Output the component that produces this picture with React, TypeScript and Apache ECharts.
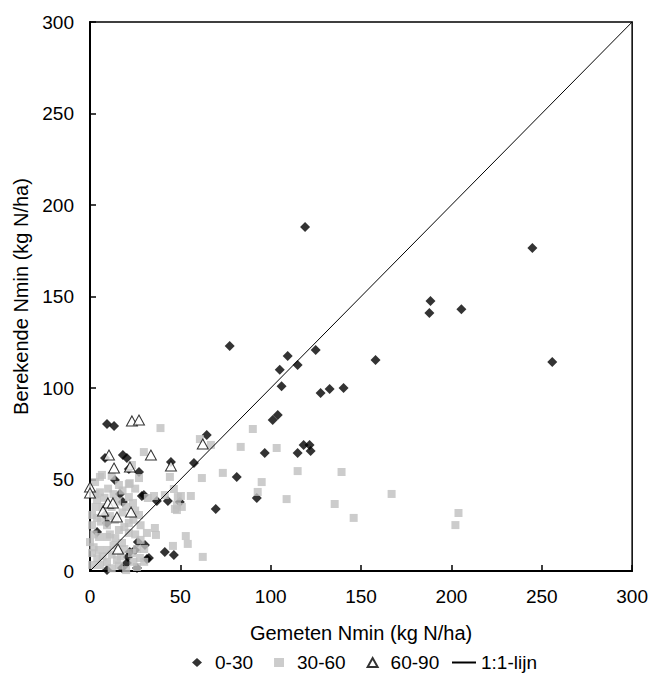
import React, { useEffect, useRef } from "react";
import * as echarts from "echarts";

const seriesNames = ["0-30", "30-60", "60-90", "1:1-lijn"];

const d0_30: number[][] = [
  [119, 188], [244.8, 176.5], [188.4, 147.5], [187.8, 141], [205.5, 143], [158, 115.3], [255.8, 114.2],
  [77.3, 123], [109.4, 117.5], [124.9, 120.8], [105, 110], [114.9, 112.6], [106, 101], [127.6, 97.3],
  [132.6, 99.5], [140.3, 100], [101.1, 82.5], [103.9, 85.2], [64.6, 74.3], [118.2, 68.9], [121.5, 68.9],
  [114.9, 64.5], [122.1, 65.6], [96.7, 64.5], [57.5, 59], [81.2, 51.4], [92.3, 39.9], [69.6, 33.9],
  [9.4, 80.3], [13.3, 79.2], [8.3, 61.7], [18.2, 63.4], [20.4, 61.7], [21.5, 55.7], [27.1, 54.1],
  [44.8, 59.6], [13.8, 49.7], [16.6, 42.1], [28.7, 41], [37, 38.3], [43.1, 38.3], [49.7, 37.7],
  [18.2, 37.7], [8.3, 30.6], [3.9, 21.3], [26.5, 15.8], [30.4, 14.2], [24.9, 11.5], [41.4, 10.4],
  [46.4, 8.7], [31.5, 6.6], [21, 7.7], [17.7, 1.6], [9.4, 0.5], [26, 1.6], [9.4, 26.2], [22, 10.4],
  [32.6, 7.1], [20.4, 4.4], [29.8, 41.5]
];

const d30_60: number[][] = [
  [60.8, 72.1], [66.9, 68.9], [90.1, 77.6], [83.4, 67.8], [103.3, 67.2], [61.9, 50.8], [73.5, 53.6],
  [95, 48.6], [114.9, 54.6], [139.2, 54.1], [92.8, 43.2], [108.8, 39.3], [135.4, 36.6], [145.9, 29],
  [55.8, 41], [50.3, 41], [50.8, 35], [53, 19.1], [54.1, 14.8], [62.4, 7.7], [166.9, 42.1],
  [203.9, 31.7], [202.2, 25.1], [39, 78.1], [29.8, 65], [23.2, 57.9], [44.2, 51.4], [27.1, 50.8],
  [21.5, 47.5], [5.5, 51.4], [2.8, 48.6], [46.4, 44.8], [35.4, 41], [48.6, 40.4], [32, 39.9],
  [48.1, 33.3], [48.1, 36], [23.8, 37.2], [31.5, 20.8], [36.5, 19.7], [45.9, 13.7], [47, 33.9],
  [6.6, 52.5], [22, 48], [5.5, 43], [3.9, 38.8], [1.1, 30.6], [1.1, 25], [0, 15.8], [1.1, 9.8],
  [1.1, 3.3], [9.4, 25], [9.4, 18.6], [9.4, 11.5], [9.4, 4.9], [16, 22.4], [17.7, 15.3], [21.5, 20.8],
  [23.2, 9.8], [21.5, 26.2], [14.9, 6], [5, 18.6], [5, 11.5], [5.5, 3.3], [27.6, 7.1], [26, 2.2],
  [35.9, 23.5], [41.4, 41.5], [13.8, 27.9], [3.9, 29], [21.5, 40.4], [27.1, 30.6], [12, 35], [18, 32],
  [14, 18], [19, 12], [12, 9], [25, 20], [28, 25], [16, 3], [7, 35], [20, 0.5], [12, 1.5], [4, 7],
  [30, 12], [25, 33], [18, 44], [10, 45], [3, 35],
  [2, 20], [6, 27], [11, 30], [15, 38], [20, 35], [24, 28], [28, 17], [13, 14], [7, 8], [17, 8],
  [24, 5], [3, 42], [8, 40], [13, 42], [19, 24], [11, 20], [26, 12], [30, 5], [2, 13], [16, 47],
  [25, 45], [12, 52]
];

const d60_90: number[][] = [
  [23.2, 82], [27.1, 82.5], [10.5, 63.4], [33.7, 63.4], [13.3, 56.3], [22.1, 56.8], [44.8, 57.4],
  [62.4, 69.4], [0, 45.9], [0, 42.6], [9.9, 37.2], [12.7, 37.2], [7.2, 32.8], [14.9, 29.5],
  [22.7, 32.2], [15.5, 12]
];

const oneToOne: number[][] = [[0, 0], [300, 300]];

const FONT = "'Liberation Sans', Arial, sans-serif";

export default function App() {
  const ref = useRef<HTMLDivElement>(null);
  useEffect(() => {
    if (!ref.current) return;
    const chart = echarts.init(ref.current, null, { renderer: "svg" });
    const axisCommon = {
      type: "value" as const,
      min: 0,
      max: 300,
      interval: 50,
      splitLine: { show: false },
      axisLine: { show: true, lineStyle: { color: "#000", width: 2 } },
      axisTick: { show: true, inside: true, length: 6, lineStyle: { color: "#000", width: 1.5 } },
      axisLabel: { color: "#000", fontSize: 19, fontFamily: FONT, margin: 16 },
      nameTextStyle: { color: "#000", fontSize: 20, fontFamily: FONT },
      nameLocation: "middle" as const,
    };
    const legendText = { color: "#000", fontSize: 19, fontFamily: FONT };
    chart.setOption({
      animation: false,
      textStyle: { fontFamily: FONT },
      grid: {
        left: 90, right: 18, top: 22, bottom: 114,
        show: true, borderColor: "#000", borderWidth: 1.5, backgroundColor: "transparent",
      },
      xAxis: { ...axisCommon, name: "Gemeten Nmin (kg N/ha)", nameGap: 52 },
      yAxis: { ...axisCommon, name: "Berekende Nmin (kg N/ha)", nameGap: 58 },
      legend: [
        {
          left: 187,
          top: 648,
          itemWidth: 10,
          itemHeight: 9,
          itemGap: 21,
          textStyle: { ...legendText, padding: [0, 0, 0, 8] },
          data: [
            { name: seriesNames[0], icon: "diamond" },
            { name: seriesNames[1], icon: "rect" },
            { name: seriesNames[2], icon: "triangle" },
          ],
        },
        {
          left: 446,
          top: 648,
          itemWidth: 24,
          itemHeight: 1,
          textStyle: { ...legendText },
          data: [{ name: seriesNames[3] }],
        },
      ],
      series: [
        {
          name: seriesNames[0],
          type: "scatter",
          symbol: "diamond",
          symbolSize: 10,
          itemStyle: { color: "#000" },
          data: d0_30,
        },
        {
          name: seriesNames[1],
          type: "scatter",
          symbol: "rect",
          symbolSize: 8,
          itemStyle: { color: "#bfbfbf" },
          data: d30_60,
        },
        {
          name: seriesNames[2],
          type: "scatter",
          symbol: "triangle",
          symbolSize: [11, 10],
          itemStyle: { color: "#fff", borderColor: "#000", borderWidth: 1 },
          data: d60_90,
        },
        {
          name: seriesNames[3],
          type: "line",
          symbol: "none",
          lineStyle: { color: "#000", width: 1 },
          itemStyle: { color: "#000" },
          data: oneToOne,
        },
      ],
    });
    return () => chart.dispose();
  }, []);
  return <div ref={ref} style={{ width: 651, height: 685, position: "absolute", left: 0, top: 0 }} />;
}
